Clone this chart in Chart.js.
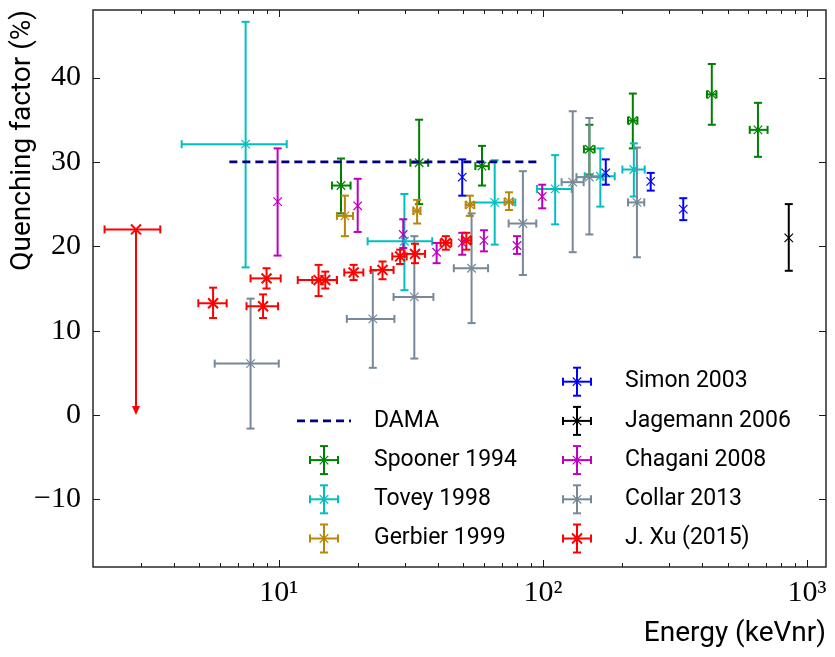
<!DOCTYPE html>
<html>
<head>
<meta charset="utf-8">
<title>Quenching factor vs energy</title>
<script src="https://cdn.jsdelivr.net/npm/chart.js@4.4.0/dist/chart.umd.min.js"></script>
<style>
  html, body { margin: 0; padding: 0; background: #ffffff; }
  #c { display: block; }
</style>
</head>
<body>
<canvas id="c" width="835" height="657"></canvas>
<script>
// ---- axis ticks ----
const energyTicks = [10, 100, 1000];
const energyTickLabels = ['10\u00B9', '10\u00B2', '10\u00B3'];
const qfTicks = [-10, 0, 10, 20, 30, 40];
const qfTickLabels = ['\u221210', '0', '10', '20', '30', '40'];

// ---- DAMA reference line (keVnr, %) ----
const damaE = [6.5, 97];
const damaQ = [30, 30];

// ---- Spooner 1994 ----
const spoonerE   = [17.2, 34.0, 58.8, 150, 219, 436, 652];
const spoonerQ   = [27.2, 29.9, 29.5, 31.5, 34.9, 38.0, 33.8];
const spoonerElo = [15.9, 31.5, 55.5, 143, 210, 418, 607];
const spoonerEhi = [18.7, 36.8, 62.4, 157, 228, 454, 709];
const spoonerQlo = [23.9, 25.0, 27.2, 28.5, 31.6, 34.4, 30.6];
const spoonerQhi = [30.4, 35.0, 31.9, 34.4, 38.1, 41.6, 37.0];

// ---- Tovey 1998 ----
const toveyE   = [7.49, 29.9, 65.7, 111.3, 165, 221];
const toveyQ   = [32.1, 20.6, 25.2, 26.8, 28.3, 29.1];
const toveyElo = [4.29, 21.7, 53.0, 95, 144, 200];
const toveyEhi = [10.72, 38.1, 78.6, 128.6, 187, 243];
const toveyQlo = [17.5, 14.8, 20.2, 22.6, 24.7, 25.9];
const toveyQhi = [46.6, 26.2, 30.2, 30.8, 31.6, 32.2];

// ---- Gerbier 1999 ----
const gerbierE   = [17.8, 33.4, 52.9, 74.4];
const gerbierQ   = [23.6, 24.2, 24.9, 25.3];
const gerbierElo = [16.6, 32.3, 51.0, 71.6];
const gerbierEhi = [19.1, 34.4, 55.0, 77.0];
const gerbierQlo = [21.2, 22.7, 23.6, 24.3];
const gerbierQhi = [26.0, 25.5, 26.0, 26.4];

// ---- Simon 2003 ----
const simonE   = [49.5, 173, 256, 340];
const simonQ   = [28.2, 28.7, 27.7, 24.4];
const simonQlo = [26.0, 27.3, 26.6, 23.1];
const simonQhi = [30.3, 30.3, 28.7, 25.7];

// ---- Jagemann 2006 ----
const jagemannE   = [853];
const jagemannQ   = [21.0];
const jagemannQlo = [17.1];
const jagemannQhi = [25.0];

// ---- Chagani 2008 ----
const chaganiE   = [9.9, 19.9, 29.6, 39.6, 49.5, 59.8, 79.8, 99.4];
const chaganiQ   = [25.3, 24.8, 21.4, 19.3, 20.4, 20.7, 20.1, 25.9];
const chaganiQlo = [18.9, 21.7, 19.8, 18.0, 19.0, 19.4, 19.1, 24.5];
const chaganiQhi = [31.6, 28.0, 23.2, 20.4, 21.6, 21.9, 21.2, 27.3];

// ---- Collar 2013 ----
const collarE   = [7.82, 22.7, 32.6, 53.7, 84.0, 129.7, 150, 227];
const collarQ   = [6.1, 11.4, 14.0, 17.4, 22.7, 27.6, 28.2, 25.2];
const collarElo = [5.72, 18.1, 27.2, 46.0, 74.2, 117.7, 134, 210];
const collarEhi = [10.0, 27.4, 38.5, 62.0, 94.4, 142.7, 168.7, 242];
const collarQlo = [-1.6, 5.6, 6.7, 10.9, 16.6, 19.3, 21.4, 18.7];
const collarQhi = [13.8, 17.1, 21.2, 23.9, 28.9, 36.0, 35.2, 31.7];

// ---- J. Xu (2015) ---- (first point is an upper limit)
const xuE     = [2.88, 5.64, 8.72, 8.99, 14.15, 15.0, 19.2, 24.7, 28.8, 32.8, 42.9, 51.3];
const xuQ     = [22.0, 13.25, 12.9, 16.2, 16.0, 16.0, 16.9, 17.2, 18.8, 19.1, 20.4, 20.7];
const xuElo   = [2.19, 4.96, 7.55, 7.82, 11.8, 13.4, 17.7, 22.3, 26.9, 29.9, 41.0, 49.3];
const xuEhi   = [3.56, 6.35, 9.94, 10.17, 16.6, 16.6, 20.9, 27.2, 30.5, 35.8, 45.0, 53.5];
const xuQlo   = [0, 11.5, 11.5, 15.0, 14.1, 15.0, 16.0, 16.1, 17.9, 18.0, 19.6, 19.6];
const xuQhi   = [22.0, 15.1, 14.3, 17.4, 17.8, 17.0, 17.8, 18.2, 19.6, 20.3, 21.2, 21.6];
const xuLimit = [true, false, false, false, false, false, false, false, false, false, false, false];

const toPoints = (xs, ys) => xs.map((v, i) => ({ x: v, y: ys[i] }));

function series(label, color, xs, ys, err, opts = {}) {
  return Object.assign({
    label,
    data: toPoints(xs, ys),
    borderColor: color,
    backgroundColor: color,
    pointStyle: 'crossRot',
    pointRadius: 6,
    pointBorderWidth: 1.2,
    showLine: false,
    err
  }, opts);
}

const datasets = [
  {
    label: 'DAMA',
    data: toPoints(damaE, damaQ),
    borderColor: '#000080',
    backgroundColor: '#000080',
    borderWidth: 2.6,
    borderDash: [8, 5],
    showLine: true,
    pointRadius: 0,
    isLine: true
  },
  series('Spooner 1994', '#008000', spoonerE, spoonerQ,
    { xlo: spoonerElo, xhi: spoonerEhi, ylo: spoonerQlo, yhi: spoonerQhi }),
  series('Tovey 1998', '#00BFBF', toveyE, toveyQ,
    { xlo: toveyElo, xhi: toveyEhi, ylo: toveyQlo, yhi: toveyQhi }),
  series('Gerbier 1999', '#B8860B', gerbierE, gerbierQ,
    { xlo: gerbierElo, xhi: gerbierEhi, ylo: gerbierQlo, yhi: gerbierQhi }),
  series('Simon 2003', '#0000FF', simonE, simonQ,
    { ylo: simonQlo, yhi: simonQhi }),
  series('Jagemann 2006', '#000000', jagemannE, jagemannQ,
    { ylo: jagemannQlo, yhi: jagemannQhi }),
  series('Chagani 2008', '#BF00BF', chaganiE, chaganiQ,
    { ylo: chaganiQlo, yhi: chaganiQhi }),
  series('Collar 2013', '#778899', collarE, collarQ,
    { xlo: collarElo, xhi: collarEhi, ylo: collarQlo, yhi: collarQhi }),
  series('J. Xu (2015)', '#FF0000', xuE, xuQ,
    { xlo: xuElo, xhi: xuEhi, ylo: xuQlo, yhi: xuQhi, limit: xuLimit },
    { pointRadius: 7, pointBorderWidth: 2 })
];

const CAP = 4;      // half-width of error bar caps
const BAR_W = 2;    // error bar line width

function hLine(ctx, x0, x1, y) { ctx.beginPath(); ctx.moveTo(x0, y); ctx.lineTo(x1, y); ctx.stroke(); }
function vLine(ctx, x, y0, y1) { ctx.beginPath(); ctx.moveTo(x, y0); ctx.lineTo(x, y1); ctx.stroke(); }

// Draws a "+" shaped error bar around (px, py) in pixel space.
function drawCross(ctx, px, py, left, right, top, bottom, limit) {
  if (left !== null) {
    hLine(ctx, left, right, py);
    vLine(ctx, left, py - CAP, py + CAP);
    vLine(ctx, right, py - CAP, py + CAP);
  }
  if (limit) {
    const head = 9;
    vLine(ctx, px, py, bottom - head);
    ctx.beginPath();
    ctx.moveTo(px - 4, bottom - head);
    ctx.lineTo(px + 4, bottom - head);
    ctx.lineTo(px, bottom);
    ctx.closePath();
    ctx.fill();
  } else if (top !== null) {
    vLine(ctx, px, top, bottom);
    hLine(ctx, px - CAP, px + CAP, top);
    hLine(ctx, px - CAP, px + CAP, bottom);
  }
}

const errorBars = {
  id: 'errorBars',
  beforeDatasetsDraw(chart) {
    const { ctx, scales: { x, y } } = chart;
    ctx.save();
    ctx.lineWidth = BAR_W;
    ctx.lineCap = 'butt';
    chart.data.datasets.forEach((ds) => {
      if (!ds.err) return;
      const e = ds.err;
      ctx.strokeStyle = ds.borderColor;
      ctx.fillStyle = ds.borderColor;
      ds.data.forEach((p, j) => {
        const px = x.getPixelForValue(p.x);
        const py = y.getPixelForValue(p.y);
        const left = e.xlo ? x.getPixelForValue(e.xlo[j]) : null;
        const right = e.xhi ? x.getPixelForValue(e.xhi[j]) : null;
        const top = e.yhi ? y.getPixelForValue(e.yhi[j]) : null;
        const bottom = e.ylo ? y.getPixelForValue(e.ylo[j]) : null;
        drawCross(ctx, px, py, left, right, top, bottom, e.limit && e.limit[j]);
      });
    });
    ctx.restore();
  }
};

// Box frame with inward-pointing ticks on all four sides.
const frame = {
  id: 'frame',
  afterDatasetsDraw(chart) {
    const { ctx, chartArea: a, scales: { x, y } } = chart;
    ctx.save();
    ctx.strokeStyle = '#1a1a1a';
    ctx.lineWidth = 1.4;
    ctx.strokeRect(a.left, a.top, a.right - a.left, a.bottom - a.top);
    ctx.lineWidth = 1;
    const major = 7, minor = 4;
    // energy ticks (log): majors at decades, minors at 2..9 x decade
    for (let d = 1; d <= 1000; d *= 10) {
      for (let m = 1; m <= 9; m++) {
        const v = m * d;
        if (v < x.min || v > x.max) continue;
        const px = Math.round(x.getPixelForValue(v)) + 0.5;
        if (px < a.left + 3 || px > a.right - 3) continue;
        const len = m === 1 ? major : minor;
        vLine(ctx, px, a.bottom, a.bottom - len);
        vLine(ctx, px, a.top, a.top + len);
      }
    }
    qfTicks.forEach((v) => {
      const py = Math.round(y.getPixelForValue(v)) + 0.5;
      hLine(ctx, a.left, a.left + major, py);
      hLine(ctx, a.right, a.right - major, py);
    });
    ctx.restore();
  }
};

// Two-column legend placed inside the plot area.
const legendBox = {
  id: 'legendBox',
  afterDraw(chart) {
    const { ctx, chartArea: a } = chart;
    const rowH = 39.2;
    const firstRowY = a.bottom - 185.3;
    const cols = [
      { mark: a.left + 231, text: a.left + 281, startRow: 1, items: datasets.slice(0, 4) },
      { mark: a.left + 484, text: a.left + 532, startRow: 0, items: datasets.slice(4) }
    ];
    ctx.save();
    ctx.font = '23px Roboto';
    ctx.textBaseline = 'middle';
    ctx.textAlign = 'left';
    cols.forEach((col) => {
      col.items.forEach((ds, k) => {
        const cy = firstRowY + (col.startRow + k) * rowH;
        const cx = col.mark;
        ctx.strokeStyle = ds.borderColor;
        ctx.fillStyle = ds.borderColor;
        if (ds.isLine) {
          ctx.lineWidth = ds.borderWidth;
          ctx.setLineDash(ds.borderDash);
          hLine(ctx, cx - 27, cx + 27, cy);
          ctx.setLineDash([]);
        } else {
          ctx.lineWidth = BAR_W;
          drawCross(ctx, cx, cy, cx - 14, cx + 14, cy - 14, cy + 14, false);
          ctx.lineWidth = ds.pointBorderWidth;
          const r = ds.pointRadius * Math.SQRT1_2;
          ctx.beginPath();
          ctx.moveTo(cx - r, cy - r); ctx.lineTo(cx + r, cy + r);
          ctx.moveTo(cx - r, cy + r); ctx.lineTo(cx + r, cy - r);
          ctx.stroke();
        }
        ctx.fillStyle = '#000000';
        ctx.fillText(ds.label, col.text, cy);
      });
    });
    ctx.restore();
  }
};

const tickFont = { family: '"Liberation Serif", "DejaVu Serif", serif', size: 30 };
const titleFont = { family: 'Roboto, "DejaVu Sans", sans-serif', size: 28 };

new Chart(document.getElementById('c'), {
  type: 'scatter',
  data: { datasets },
  options: {
    responsive: false,
    animation: false,
    devicePixelRatio: 1,
    layout: { padding: { left: 0, right: 6, top: 10, bottom: 0 } },
    plugins: { legend: { display: false }, tooltip: { enabled: false } },
    elements: { line: { tension: 0 } },
    scales: {
      x: {
        type: 'logarithmic',
        min: 1.98,
        max: 1180,
        grid: { display: false, drawTicks: false },
        border: { display: false },
        afterBuildTicks: (s) => { s.ticks = energyTicks.map((v) => ({ value: v })); },
        afterFit: (s) => { s.height = 90; s.paddingLeft = 0; s.paddingRight = 0; },
        ticks: {
          autoSkip: false, maxRotation: 0, minRotation: 0, padding: 8,
          color: '#000000', font: tickFont,
          callback: (v) => energyTickLabels[energyTicks.indexOf(v)]
        },
        title: {
          display: true, text: 'Energy (keVnr)', align: 'end',
          color: '#000000', font: titleFont, padding: { top: 0, bottom: 6 }
        }
      },
      y: {
        min: -18,
        max: 48,
        grid: { display: false, drawTicks: false },
        border: { display: false },
        afterBuildTicks: (s) => { s.ticks = qfTicks.map((v) => ({ value: v })); },
        afterFit: (s) => { s.width = 93; s.paddingTop = 0; s.paddingBottom = 0; },
        ticks: {
          padding: 12, color: '#000000', font: tickFont,
          callback: (v) => qfTickLabels[qfTicks.indexOf(v)]
        },
        title: {
          display: true, text: 'Quenching factor (%)', align: 'end',
          color: '#000000', font: titleFont, padding: { top: 6, bottom: 0 }
        }
      }
    }
  },
  plugins: [errorBars, frame, legendBox]
});
</script>
</body>
</html>
